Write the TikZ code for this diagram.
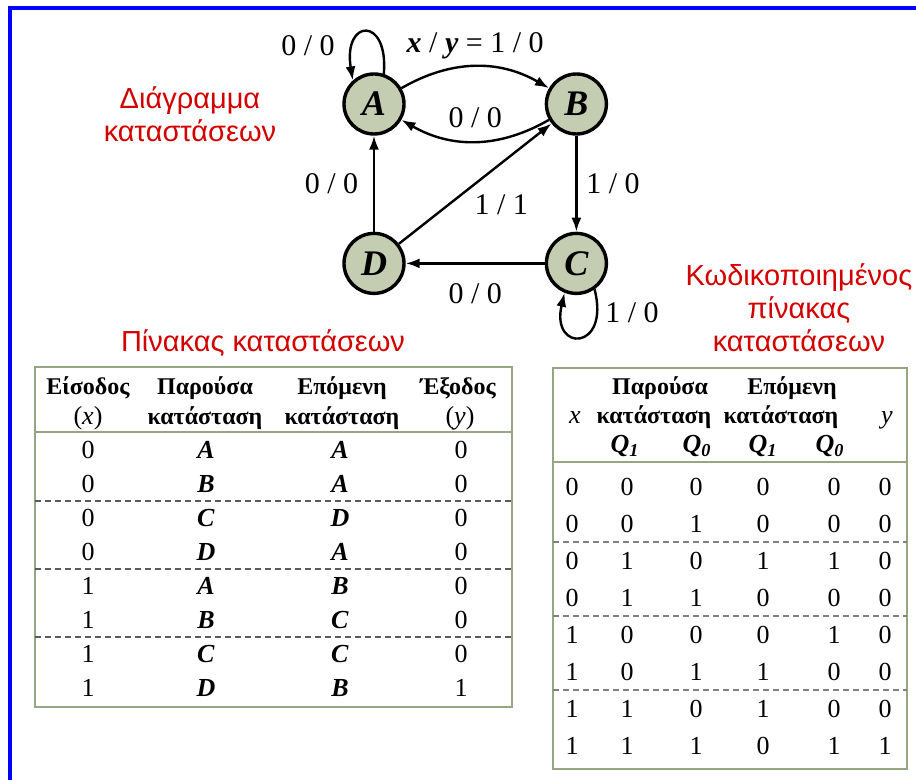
\documentclass[tikz,border=0pt]{standalone}
\usepackage{fontspec}
\setmainfont{Liberation Serif}
\newfontfamily\titlefont{Liberation Sans}
\usetikzlibrary{arrows.meta,positioning}
\definecolor{stfill}{RGB}{196,205,178}
\definecolor{titlec}{RGB}{210,0,0}
\definecolor{framec}{RGB}{0,0,255}
\definecolor{tabc}{RGB}{150,165,130}
\definecolor{dashc}{RGB}{90,90,90}
\newcommand{\st}[1]{\textbf{\textit{#1}}}

\begin{document}
\begin{tikzpicture}[x=0.5pt,y=0.5pt,
  state/.style={circle,draw,line width=1.7pt,fill=stfill,minimum size=30pt,inner sep=0pt,font=\fontsize{18}{18}\selectfont\bfseries\itshape},
  ar/.style={-{Latex[length=7pt,width=5pt]},line width=1.2pt},
  lbl/.style={font=\fontsize{15}{15}\selectfont},
  ttl/.style={font=\titlefont\fontsize{14.5}{16.5}\selectfont,text=titlec,align=center},
  cell/.style={font=\fontsize{13}{13}\selectfont,inner sep=0pt,text height=8.5pt,text depth=0pt},
  hd/.style={cell,font=\fontsize{12}{12}\selectfont\bfseries},
  tab/.style={draw=tabc,line width=0.8pt},
  sep/.style={draw=dashc,dashed,line width=0.8pt,dash pattern=on 3pt off 2pt}
]
\useasboundingbox (0,0) rectangle (916,-780);
\draw[framec,line width=2pt] (10,-780) -- (10,-8) -- (916,-8);

% state diagram
\node[state] (A) at (374,-104) {A};
\node[state,right=69.5pt of A] (B) {B};
\node[state,below=48pt of B] (C) {C};
\node[state,below=48pt of A] (D) {D};
\draw[ar] (A) to[bend left=30] node[lbl,above=0pt] {\st{x} / \st{y} = 1 / 0} (B);
\draw[ar] (B) to[bend left=30] node[lbl,above=3pt] {0 / 0} (A);
\draw[ar] (A.72) .. controls +(5,58) and +(-10,62) .. (A.132);
\node[lbl] (lA) at (308,-46) {0 / 0};
\draw[ar] (D) -- node[lbl,left=4pt] {0 / 0} (A);
\draw[ar] (D) -- node[lbl,shift={(26,-21)}] {1 / 1} (B);
\draw[ar] (B) -- node[lbl,right=1pt] {1 / 0} (C);
\draw[ar] (C) -- node[lbl,below=6pt] {0 / 0} (D);
\draw[ar] (C.-55) .. controls +(16,-62) and +(-14,-60) .. (C.-112);
\node[lbl] (lC) at (632,-313) {1 / 0};

% titles
\node[ttl] (tdiag) at (190,-114) {Διάγραμμα\\καταστάσεων};
\node[ttl] (tstate) at (263,-343) {Πίνακας καταστάσεων};
\node[ttl] (tcode) at (799,-308) {Κωδικοποιημένος\\πίνακας\\καταστάσεων};

% state table
\draw[tab] (35,-367) rectangle (512,-707);
\node[hd] (lh1) at (88,-386) {Είσοδος};
\node[cell] (lh1b) at (88,-416) {(\textit{x})};
\node[hd] (lh2) at (205,-386) {Παρούσα};
\node[hd] (lh2b) at (205,-416) {κατάσταση};
\node[hd] (lh3) at (342,-386) {Επόμενη};
\node[hd] (lh3b) at (342,-416) {κατάσταση};
\node[hd] (lh4) at (458,-386) {Έξοδος};
\node[cell] (lh4b) at (460,-416) {(\textit{y})};
\draw[tab] (35,-432) -- (512,-432);
\foreach \x/\p/\n/\y [count=\r] in {0/A/A/0,0/B/A/0,0/C/D/0,0/D/A/0,1/A/B/0,1/B/C/0,1/C/C/0,1/D/B/1}{
  \node[cell] (lx\r) at (88,{-450-34*(\r-1)}) {\x};
  \node[cell] (lp\r) at (206,{-450-34*(\r-1)}) {\st{\p}};
  \node[cell] (ln\r) at (340,{-450-34*(\r-1)}) {\st{\n}};
  \node[cell] (ly\r) at (461,{-450-34*(\r-1)}) {\y};
}
\foreach \yy in {501,569,637} \draw[sep] (35,-\yy) -- (512,-\yy);

% encoded table
\draw[tab] (553,-368) rectangle (907,-769);
\node[cell] (rx) at (575,-415) {\textit{x}};
\node[hd] (rh1) at (660,-386) {Παρούσα};
\node[hd] (rh1b) at (654,-415) {κατάσταση};
\node[hd] (rh2) at (792,-386) {Επόμενη};
\node[hd] (rh2b) at (781,-415) {κατάσταση};
\node[cell] (ry) at (887,-415) {\textit{y}};
\foreach \qx/\i [count=\k] in {625/1,697/0,763/1,830/0}
  \node[cell] (rq\k) at (\qx,-444) {\st{Q\textsubscript{\i}}};
\draw[tab] (553,-462) -- (907,-462);
\foreach \a/\b/\c/\d/\e/\f [count=\r] in {0/0/0/0/0/0,0/0/1/0/0/0,0/1/0/1/1/0,0/1/1/0/0/0,1/0/0/0/1/0,1/0/1/1/0/0,1/1/0/1/0/0,1/1/1/0/1/1}{
  \node[cell] (ra\r) at (572,{-487-37*(\r-1)}) {\a};
  \node[cell] (rb\r) at (627,{-487-37*(\r-1)}) {\b};
  \node[cell] (rc\r) at (696,{-487-37*(\r-1)}) {\c};
  \node[cell] (rd\r) at (763,{-487-37*(\r-1)}) {\d};
  \node[cell] (re\r) at (834,{-487-37*(\r-1)}) {\e};
  \node[cell] (rf\r) at (885,{-487-37*(\r-1)}) {\f};
}
\foreach \yy in {542,616,690} \draw[sep,draw=gray] (553,-\yy) -- (907,-\yy);
\end{tikzpicture}
\end{document}
